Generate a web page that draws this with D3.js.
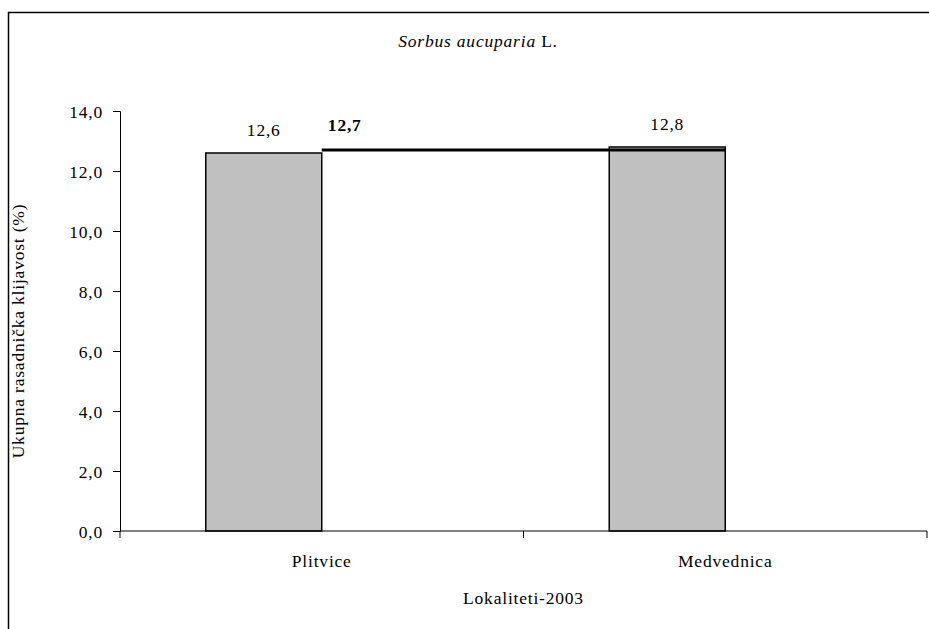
<!DOCTYPE html>
<html>
<head>
<meta charset="utf-8">
<script src="https://cdn.jsdelivr.net/npm/d3@7"></script>
<style>
  html, body { margin: 0; padding: 0; background: #fff; }
  svg { display: block; }
  text { font-family: "Liberation Serif", "Times New Roman", serif; font-size: 17.5px; letter-spacing: 0.8px; fill: #000; }
</style>
</head>
<body>
<svg id="chart" width="929" height="629"></svg>
<script>
// ---- data ----
const categories = ["Plitvice", "Medvednica"];
const barValues = [12.6, 12.8];
const barLabels = ["12,6", "12,8"];
const meanValues = [12.7, 12.7];
const meanLabel = "12,7";
const yTicks = [0, 2, 4, 6, 8, 10, 12, 14];
const yTickLabels = ["0,0", "2,0", "4,0", "6,0", "8,0", "10,0", "12,0", "14,0"];
const titleItalic = "Sorbus aucuparia";
const titleRest = " L.";
const xTitle = "Lokaliteti-2003";
const yTitle = "Ukupna rasadnička klijavost (%)";

// ---- layout ----
const svg = d3.select("#chart");
const plot = { left: 120, right: 927, top: 111, bottom: 531 };

// outer frame (cropped: only left and top visible)
svg.append("rect")
  .attr("x", 8.5).attr("y", 12.5)
  .attr("width", 1000).attr("height", 1000)
  .attr("fill", "none").attr("stroke", "#000").attr("stroke-width", 1.5);

const x = d3.scaleBand().domain(categories).range([plot.left, plot.right]).paddingInner(0).paddingOuter(0);
const y = d3.scaleLinear().domain([0, 14]).range([plot.bottom, plot.top]);
const barW = x.bandwidth() * 0.2875;
const cx = d => x(d) + x.bandwidth() / 2;

// bars (first series of a clustered pair: right edge at band centre)
svg.append("g").selectAll("rect")
  .data(categories)
  .join("rect")
  .attr("x", (d) => cx(d) - barW)
  .attr("y", (d, i) => y(barValues[i]))
  .attr("width", barW)
  .attr("height", (d, i) => y(0) - y(barValues[i]))
  .attr("fill", "#C0C0C0")
  .attr("stroke", "#000")
  .attr("stroke-width", 1.5);

// bar value labels
svg.append("g").selectAll("text")
  .data(categories)
  .join("text")
  .attr("x", d => cx(d) - barW / 2)
  .attr("y", (d, i) => y(barValues[i]) - 17)
  .attr("text-anchor", "middle")
  .text((d, i) => barLabels[i]);

// mean line
const line = d3.line().x((d, i) => cx(categories[i])).y(d => y(d));
svg.append("path")
  .datum(meanValues)
  .attr("d", line)
  .attr("fill", "none")
  .attr("stroke", "#000")
  .attr("stroke-width", 3.2);

svg.append("text")
  .attr("x", cx(categories[0]) + 23)
  .attr("y", y(meanValues[0]) - 19)
  .attr("text-anchor", "middle")
  .attr("font-weight", "bold")
  .text(meanLabel);

// y axis
const yAxis = d3.axisLeft(y).tickValues(yTicks).tickFormat((d, i) => yTickLabels[i]).tickSize(7).tickPadding(10);
const gy = svg.append("g").attr("transform", `translate(${plot.left},0)`).call(yAxis);
gy.attr("font-family", null).attr("font-size", null);
gy.select(".domain").attr("stroke", "#000").attr("stroke-width", 1);
gy.selectAll(".tick line").attr("stroke", "#000");
gy.selectAll(".tick text").attr("dy", "0.35em");

// x axis
const gx = svg.append("g").attr("transform", `translate(0,${plot.bottom})`);
gx.append("line").attr("x1", plot.left).attr("x2", plot.right).attr("y1", 0).attr("y2", 0)
  .attr("stroke", "#000").attr("stroke-width", 1);
const boundaries = [plot.left].concat(categories.map(d => x(d) + x.bandwidth()));
gx.selectAll("line.tk").data(boundaries).join("line").attr("class", "tk")
  .attr("x1", d => d).attr("x2", d => d).attr("y1", 0).attr("y2", 7)
  .attr("stroke", "#000").attr("stroke-width", 1);
gx.selectAll("text.cat").data(categories).join("text").attr("class", "cat")
  .attr("x", d => cx(d)).attr("y", 36)
  .attr("text-anchor", "middle")
  .text(d => d);

// axis titles
svg.append("text")
  .attr("x", (plot.left + plot.right) / 2).attr("y", 604)
  .attr("text-anchor", "middle")
  .text(xTitle);

svg.append("text")
  .attr("transform", `translate(24,${(plot.top + plot.bottom) / 2 + 10}) rotate(-90)`)
  .attr("text-anchor", "middle")
  .text(yTitle);

// chart title
const t = svg.append("text").attr("x", 478).attr("y", 47).attr("text-anchor", "middle");
t.append("tspan").attr("font-style", "italic").text(titleItalic);
t.append("tspan").text(titleRest);
</script>
</body>
</html>
